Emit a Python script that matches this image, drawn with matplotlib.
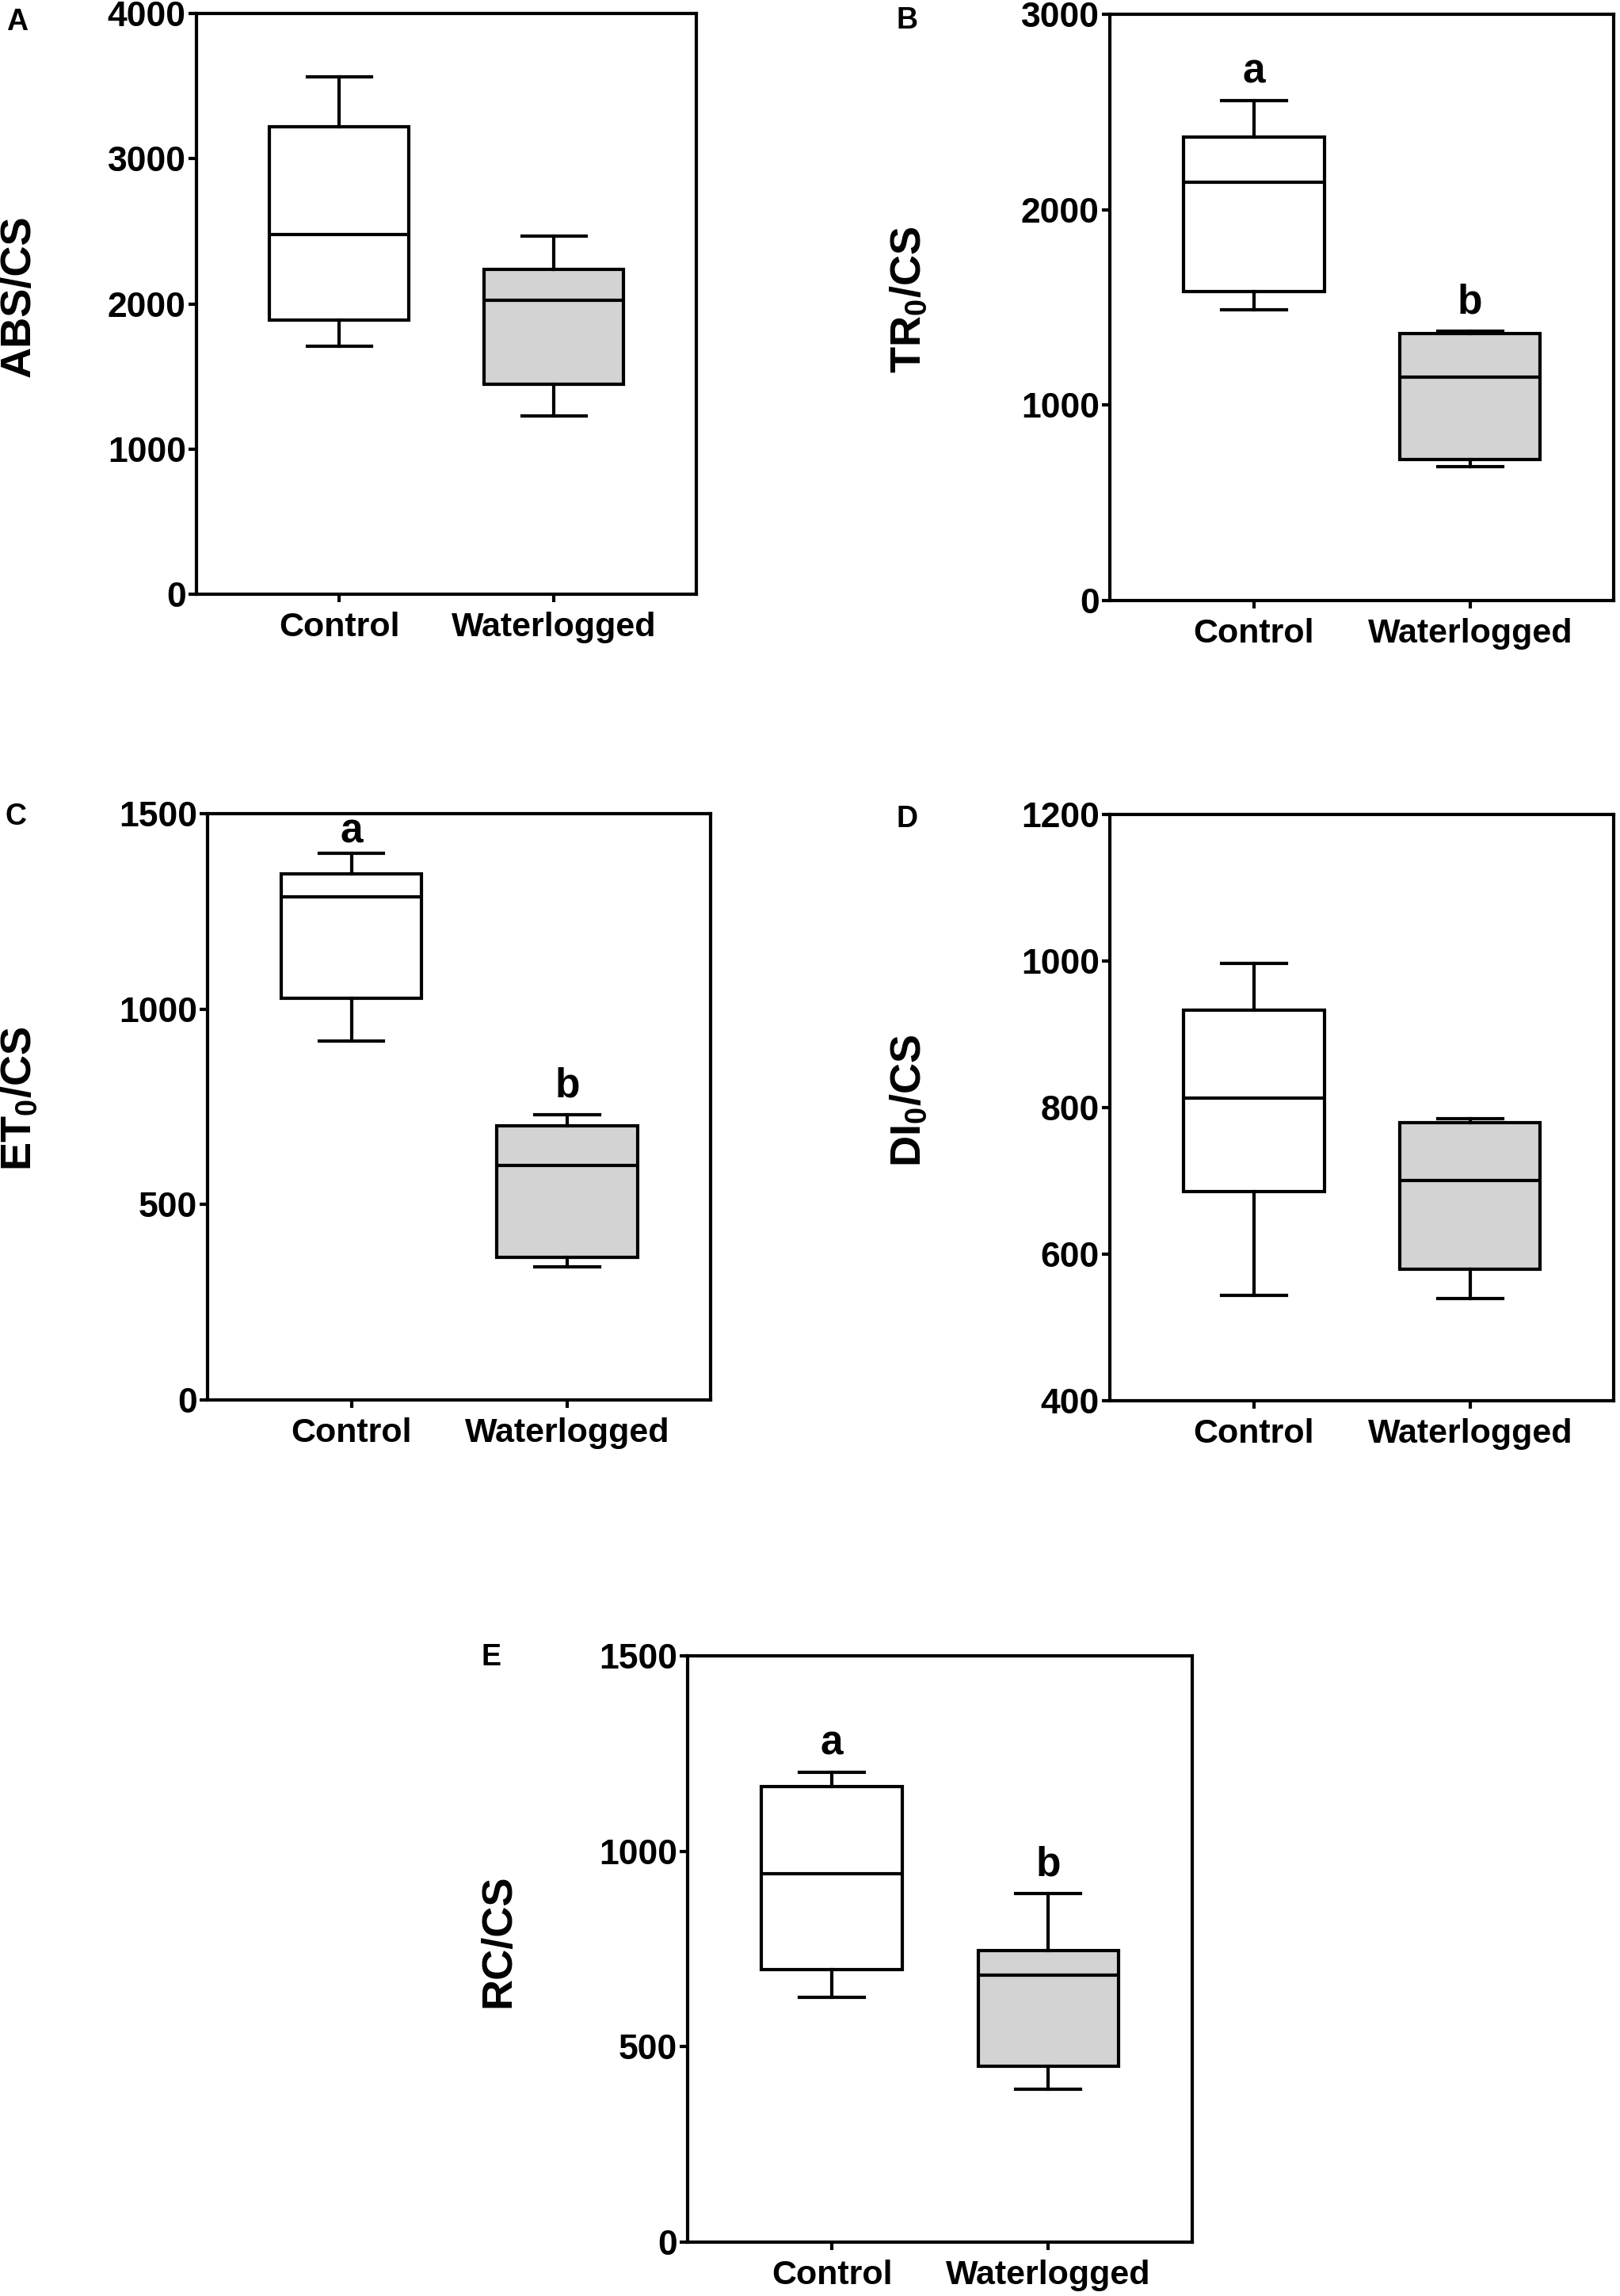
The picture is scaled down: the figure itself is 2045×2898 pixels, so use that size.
import numpy as np
import matplotlib
matplotlib.use("Agg")
from matplotlib import pyplot as plt

groups = ["Control", "Waterlogged"]

# five-number summaries: min, Q1, median, Q3, max
abs_cs = [[1707, 1887, 2477, 3218, 3562], [1230, 1446, 2027, 2240, 2465]]
tr0_cs = [[1488, 1580, 2142, 2373, 2560], [687, 722, 1145, 1367, 1378]]
et0_cs = [[919, 1027, 1288, 1346, 1398], [341, 365, 600, 701, 730]]
di0_cs = [[544, 685, 813, 933, 997], [540, 580, 701, 779, 785]]
rc_cs = [[627, 697, 942, 1166, 1202], [391, 451, 684, 745, 892]]

ticks_abs = [0, 1000, 2000, 3000, 4000]
ticks_tr0 = [0, 1000, 2000, 3000]
ticks_et0 = [0, 500, 1000, 1500]
ticks_di0 = [400, 600, 800, 1000, 1200]
ticks_rc = [0, 500, 1000, 1500]

letters_abs = []
letters_tr0 = ["a", "b"]
letters_et0 = ["a", "b"]
letters_di0 = []
letters_rc = ["a", "b"]

plt.rcParams['font.family'] = ['Liberation Sans', 'DejaVu Sans']
plt.rcParams['font.weight'] = 'bold'
plt.rcParams['mathtext.fontset'] = 'custom'
plt.rcParams['mathtext.rm'] = 'Liberation Sans:bold'
plt.rcParams['mathtext.it'] = 'Liberation Sans:bold'
plt.rcParams['mathtext.bf'] = 'Liberation Sans:bold'

W, H = 2045, 2898
fig = plt.figure(figsize=(W / 100, H / 100), dpi=100)

# panel: tag, data, ylabel, ticks, letters, axes box in px (left, top, right, bottom),
# tag pos px, ylabel centre px
panels = [
    ("A", abs_cs, "ABS/CS", ticks_abs, letters_abs, (248, 17, 879, 750), (8, 10), (24, 374)),
    ("B", tr0_cs, "TR$_0$/CS", ticks_tr0, letters_tr0, (1401, 18, 2037, 758), (1132, 8), (1147, 378)),
    ("C", et0_cs, "ET$_0$/CS", ticks_et0, letters_et0, (262, 1027, 897, 1767), (6, 1013), (24, 1387)),
    ("D", di0_cs, "DI$_0$/CS", ticks_di0, letters_di0, (1401, 1028, 2037, 1768), (1132, 1016), (1147, 1389)),
    ("E", rc_cs, "RC/CS", ticks_rc, letters_rc, (868, 2090, 1505, 2830), (607, 2074), (629, 2450)),
]

lw = 3
fills = ["white", "#d3d3d3"]

for tag, data, ylab, ticks, letters, box, tagpos, labpos in panels:
    l, t, r, b = box
    ax = fig.add_axes([l / W, 1 - b / H, (r - l) / W, (b - t) / H])
    stats = []
    for name, v in zip(groups, data):
        stats.append(dict(label=name, whislo=v[0], q1=v[1], med=v[2], q3=v[3], whishi=v[4], fliers=[]))
    bp = ax.bxp(stats, positions=[1, 2], widths=0.65, capwidths=0.3, patch_artist=True,
                showfliers=False,
                boxprops=dict(linewidth=lw, edgecolor="black"),
                whiskerprops=dict(linewidth=lw, color="black"),
                capprops=dict(linewidth=lw, color="black"),
                medianprops=dict(linewidth=lw, color="black"))
    for patch, c in zip(bp["boxes"], fills):
        patch.set_facecolor(c)

    ax.set_xlim(0.334, 2.664)
    ax.set_ylim(ticks[0], ticks[-1])
    ax.set_yticks(ticks)
    ax.set_yticklabels([str(v) for v in ticks])
    for s in ax.spines.values():
        s.set_linewidth(lw)
    ax.tick_params(axis="y", direction="out", length=7.5, width=lw, pad=2, labelsize=32)
    ax.tick_params(axis="x", direction="out", length=7.5, width=lw, pad=8, labelsize=31)
    for lab in ax.get_xticklabels() + ax.get_yticklabels():
        lab.set_fontweight("bold")

    for i, letter in enumerate(letters):
        off = 10 if (tag == "C" and i == 0) else 16
        ax.annotate(letter, xy=(i + 1, data[i][4]), xytext=(0, off), textcoords="offset points",
                    ha="center", va="baseline", fontsize=37, fontweight="bold")

    fig.text(tagpos[0] / W, 1 - tagpos[1] / H, tag, ha="left", va="top", fontsize=27, fontweight="bold")
    fig.text(labpos[0] / W, 1 - labpos[1] / H, ylab, ha="center", va="center", rotation=90,
             fontsize=39, fontweight="bold")

fig.savefig("out.png", dpi=100)
